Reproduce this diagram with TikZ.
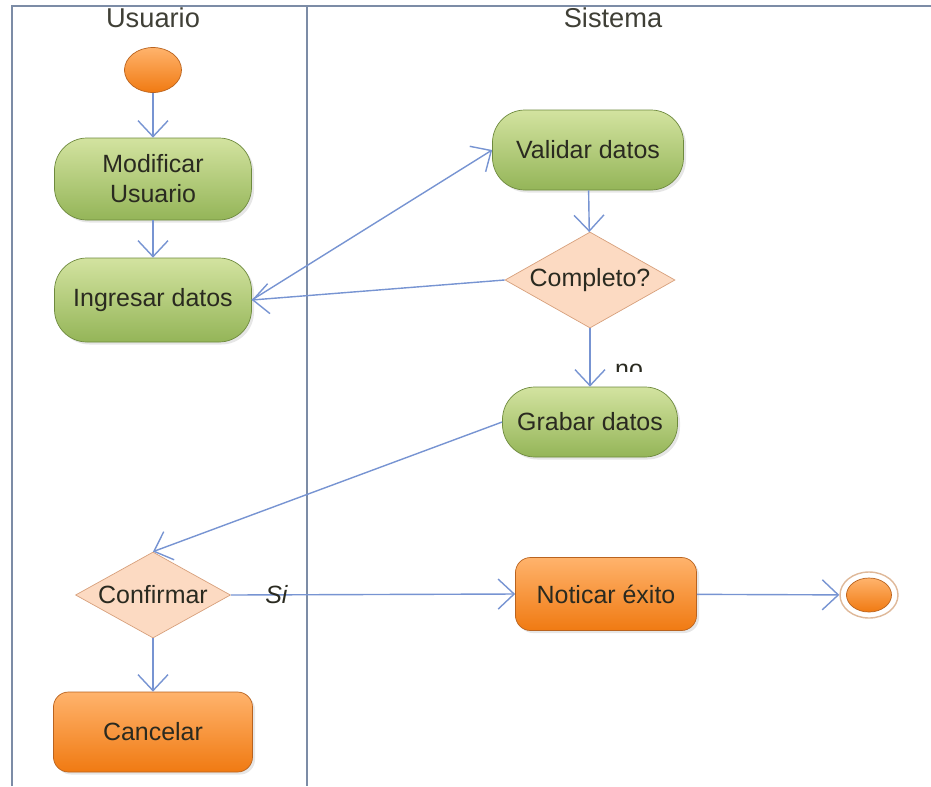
\documentclass[tikz,border=0pt]{standalone}
\usepackage{fontspec}
\setmainfont{Liberation Sans}
\usetikzlibrary{positioning, shapes.geometric, arrows.meta, shadows}
\definecolor{lane}{HTML}{7C8CA6}
\definecolor{flow}{HTML}{7794D2}
\definecolor{leafhi}{HTML}{D3E3A0}
\definecolor{leaflo}{HTML}{94B558}
\definecolor{leafln}{HTML}{6E8A3E}
\definecolor{orghi}{HTML}{FFB36C}
\definecolor{orglo}{HTML}{F07A12}
\definecolor{orgln}{HTML}{B9631F}
\definecolor{peach}{HTML}{FCDAC2}
\definecolor{peachln}{HTML}{D7A07C}
\definecolor{txt}{HTML}{2A2A20}

\begin{document}
\begin{tikzpicture}[x=0.2mm, y=-0.2mm,
  font=\fontsize{14.2}{17}\selectfont,
  lanefr/.style={draw=lane, line width=1.1pt},
  title/.style={font=\fontsize{15.5}{19}\selectfont, text=txt!90},
  act/.style={draw=leafln, top color=leafhi, bottom color=leaflo, rounded corners=6.5mm,
              align=center, inner sep=2pt, text=txt,
              drop shadow={opacity=0.2, shadow xshift=0.5mm, shadow yshift=-0.5mm}},
  actout/.style={draw=orgln, top color=orghi, bottom color=orglo, rounded corners=3mm,
              align=center, inner sep=2pt, text=txt,
              drop shadow={opacity=0.2, shadow xshift=0.5mm, shadow yshift=-0.5mm}},
  decide/.style={diamond, draw=peachln, fill=peach, inner sep=0pt, text=txt},
  flow/.style={-{Straight Barb[length=3.2mm, width=6mm]}, draw=flow, line width=0.8pt},
  guard/.style={font=\fontsize{14.2}{17}\selectfont\itshape, text=txt}
]
  \useasboundingbox (0,0) rectangle (931,786);

  % swimlanes
  \draw[lanefr] (12,786) -- (12,6) -- (931,6);
  \draw[lanefr] (307,6) -- (307,786);
  \node[title] (tusr) at (153,18) {Usuario};
  \node[title] (tsys) at (613,18) {Sistema};

  % lane Usuario
  \node[ellipse, draw=orgln, top color=orghi, bottom color=orglo, minimum width=11.4mm,
        minimum height=9mm] (ini) at (153,70) {};
  \node[act, minimum width=39.4mm, minimum height=16.4mm] (modif) at (153,179) {Modificar\\Usuario};
  \node[act, minimum width=39.4mm, minimum height=16.8mm] (ingr) at (153,300) {Ingresar datos};
  \node[decide, shape aspect=1.8, minimum width=31mm, minimum height=17.2mm] (conf) at (153,595) {Confirmar};
  \node[actout, minimum width=39.8mm, minimum height=16mm] (canc) at (153,732) {Cancelar};

  % lane Sistema
  \node[act, minimum width=38.2mm, minimum height=16mm] (valid) at (588,150) {Validar datos};
  \node[decide, shape aspect=1.77, minimum width=34mm, minimum height=19.2mm] (compl) at (590,280) {Completo?};
  \node[act, minimum width=35mm, minimum height=14mm] (grab) at (590,422) {Grabar datos};
  \node[actout, minimum width=36.2mm, minimum height=14.6mm] (notic) at (606,594) {Noticar éxito};
  \node[ellipse, draw=orgln!45, line width=0.8pt, fill=white, minimum width=11.6mm,
        minimum height=9.2mm] (fin) at (869,595) {};
  \node[ellipse, draw=orgln, top color=orghi, bottom color=orglo, minimum width=9mm,
        minimum height=6.8mm] (finin) at (fin.center) {};

  % transitions
  \draw[flow] (ini) -- (modif);
  \draw[flow] (modif) -- (ingr);
  \draw[flow] (ingr.east) -- (valid.west);
  \draw[flow] (valid) -- (compl);
  \draw[flow] (compl.west) -- (ingr.east);
  \draw[flow] (compl) -- (grab);
  \begin{scope}
    \clip (600,350) rectangle (660,371);
    \node[guard, font=\fontsize{14.2}{17}\selectfont, anchor=base west] (lno) at (609,377) {no};
  \end{scope}
  \draw[flow] (grab.west) -- (conf.north);
  \draw[flow] (conf.east) -- node[guard, pos=0.16] (lsi) {Si} (notic.west);
  \draw[flow] (conf) -- (canc);
  \draw[flow] (notic) -- (fin);
\end{tikzpicture}
\end{document}
